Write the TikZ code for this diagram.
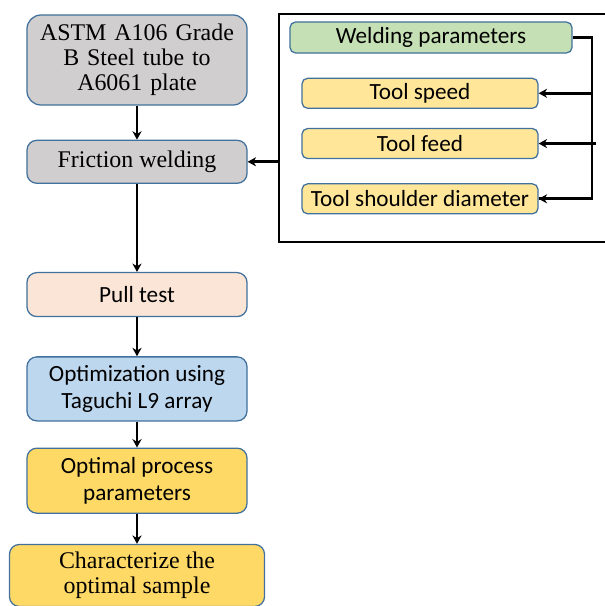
\documentclass[tikz,border=0pt]{standalone}
\usepackage{fontspec}
\setmainfont{Liberation Serif}
\newfontfamily\calibfont{Carlito}
\usetikzlibrary{arrows.meta, positioning}
\definecolor{boxedge}{HTML}{41719C}
\definecolor{grayfill}{HTML}{D0CECE}
\definecolor{peachfill}{HTML}{FBE5D6}
\definecolor{bluefill}{HTML}{BDD7EE}
\definecolor{goldfill}{HTML}{FFD966}
\definecolor{lightgold}{HTML}{FFE699}
\definecolor{greenfill}{HTML}{C5E0B4}
\tikzset{
  serifbox/.style={
    rectangle, rounded corners=7pt, draw=boxedge, line width=0.9pt,
    text centered, align=center, minimum width=5.5cm,
    inner sep=2pt, font=\fontsize{17}{17.7}\selectfont
  },
  sansbox/.style={
    rectangle, rounded corners=7pt, draw=boxedge, line width=0.9pt,
    text centered, align=center, minimum width=5.5cm,
    inner sep=2pt, font=\calibfont\fontsize{16.5}{19}\selectfont
  },
  param/.style={
    rectangle, rounded corners=4pt, draw=boxedge, line width=0.9pt,
    fill=lightgold, text centered, minimum width=5.9cm, minimum height=0.75cm,
    inner sep=1pt, font=\calibfont\fontsize{16.5}{19}\selectfont
  },
  panel/.style={
    rectangle, draw, line width=1.7pt, minimum width=8.2cm, minimum height=5.7cm
  },
  arr/.style={-{Stealth[length=6pt, width=6.5pt]}, line width=2pt},
  link/.style={line width=2pt},
}

\begin{document}
\begin{tikzpicture}[x=0.025cm, y=-0.025cm]
  \useasboundingbox (0,0) rectangle (605,606);

  % ── parameter panel ───────────────────────────────────────────────────────
  \node[panel] (params) at (443,128) {};
  \node[param, fill=greenfill, minimum width=7.05cm, minimum height=0.775cm]
                                    (wp)       at (431,37.5) {Welding parameters};
  \node[param, below=0.6cm of wp, xshift=-0.275cm] (speed)    {Tool speed};
  \node[param, below=0.475cm of speed]             (feed)     {Tool feed};
  \node[param, below=0.6cm of feed]                (shoulder) {Tool shoulder diameter};

  % ── flow nodes ────────────────────────────────────────────────────────────
  \node[serifbox, fill=grayfill, minimum height=2.25cm, rounded corners=10pt, text width=5.3cm]
                                               (astm)   at (137,60)
        {ASTM A106 Grade\\B Steel tube to\\A6061 plate};
  \node[serifbox, fill=grayfill, minimum height=1.075cm, below=0.85cm of astm] (weld)
        {Friction welding};
  \node[sansbox, fill=peachfill, minimum height=1.1cm, below=2.2cm of weld]   (pull)
        {Pull test};
  \node[sansbox, fill=bluefill, minimum height=1.6cm, below=0.975cm of pull]  (taguchi)
        {Optimization using\\Taguchi L9 array};
  \node[sansbox, fill=goldfill, minimum height=1.625cm, below=0.65cm of taguchi] (optimal)
        {Optimal process\\parameters};
  \node[serifbox, fill=goldfill, minimum height=1.55cm, minimum width=6.375cm, below=0.75cm of optimal] (charac)
        {Characterize the\\optimal sample};

  % ── edges ─────────────────────────────────────────────────────────────────
  \draw[arr] (astm)    -- (weld);
  \draw[arr] (weld)    -- (pull);
  \draw[arr] (pull)    -- (taguchi);
  \draw[arr] (taguchi) -- (optimal);
  \draw[arr] (optimal) -- (charac);

  \draw[arr] (params.west |- weld.east) -- (weld.east);

  \coordinate (bustop)   at (592,37.5);
  \coordinate (tapspeed) at (bustop |- speed.east);
  \coordinate (tapfeed)  at ([xshift=0.1cm]bustop |- feed.east);
  \draw[link] (wp.east) -- (bustop) |- (shoulder.east);
  \draw[arr]  (tapspeed) -- (speed.east);
  \draw[arr]  (tapfeed)  -- (feed.east);
  \draw[arr]  (bustop |- shoulder.east) -- (shoulder.east);

\end{tikzpicture}
\end{document}
